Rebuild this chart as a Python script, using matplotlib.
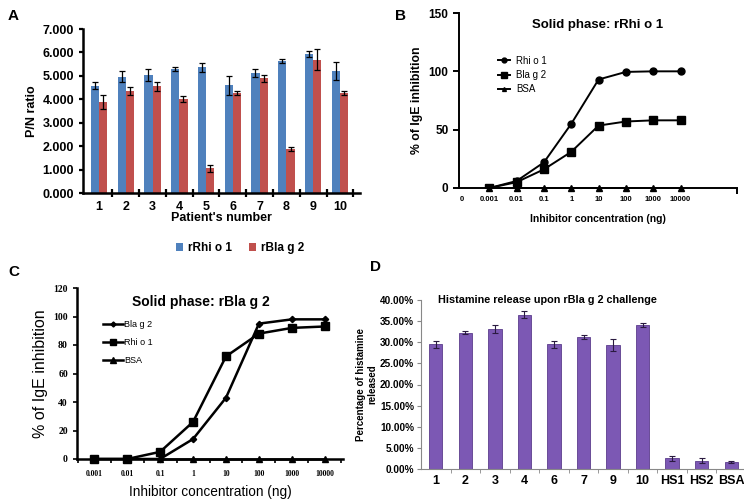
"""Four-panel figure: P/N ratios, two inhibition curves and histamine release."""

import matplotlib.pyplot as plt
import numpy as np
from matplotlib.ticker import FixedLocator, FuncFormatter

# Panel A: P/N ratio per patient
patients = ["1", "2", "3", "4", "5", "6", "7", "8", "9", "10"]
rhi_pn = [4.58, 4.97, 5.03, 5.29, 5.36, 4.60, 5.11, 5.65, 5.94, 5.20]
rhi_pn_err = [0.15, 0.25, 0.25, 0.07, 0.18, 0.40, 0.18, 0.08, 0.13, 0.38]
bla_pn = [3.88, 4.35, 4.55, 4.02, 1.05, 4.27, 4.90, 1.88, 5.68, 4.27]
bla_pn_err = [0.30, 0.18, 0.18, 0.12, 0.15, 0.07, 0.15, 0.10, 0.45, 0.08]

# Panel B: solid phase rRhi o 1
conc_b = [0.001, 0.01, 0.1, 1, 10, 100, 1000, 10000]
b_rhi = [0, 6, 22, 55, 93, 99.5, 100, 100]
b_bla = [0, 5, 16, 31, 53.5, 57, 58, 58]
b_bsa = [0, 0, 0, 0, 0, 0, 0, 0]
b_tick_values = [0, 0.001, 0.01, 0.1, 1, 10, 100, 1000, 10000]
b_tick_labels = ["0", "0.001", "0.01", "0.1", "1", "10", "100", "1000", "10000"]

# Panel C: solid phase rBla g 2
conc_c = [0.001, 0.01, 0.1, 1, 10, 100, 1000, 10000]
c_bla = [0, 0, 0, 14, 43, 95, 98, 98]
c_rhi = [0, 0, 5, 26, 72, 88, 92, 93]
c_bsa = [None, None, 0, 0, 0, 0, 0, 0]
c_tick_labels = ["0.001", "0.01", "0.1", "1", "10", "100", "1000", "10000"]

# Panel D: histamine release
d_groups = ["1", "2", "3", "4", "6", "7", "9", "10", "HS1", "HS2", "BSA"]
d_release = [29.5, 32.3, 33.2, 36.5, 29.5, 31.2, 29.3, 34.0, 2.5, 2.0, 1.7]
d_err = [0.9, 0.3, 0.9, 0.8, 0.9, 0.4, 1.4, 0.5, 0.5, 0.6, 0.3]

W, H = 744, 500
fig = plt.figure(figsize=(W / 100, H / 100), dpi=100)
plt.rcParams["font.family"] = ["Liberation Sans", "DejaVu Sans"]


def px_axes(left, top, right, bottom):
    return fig.add_axes([left / W, 1 - bottom / H, (right - left) / W, (bottom - top) / H])


# ---------- A ----------
ax_a = px_axes(83, 29, 360, 193)
x = np.arange(len(patients))
bw = 0.31
ax_a.bar(x - bw / 2, rhi_pn, bw, color="#4f81bd", label="rRhi o 1",
         yerr=rhi_pn_err, error_kw=dict(ecolor="black", elinewidth=0.9, capsize=2.5, capthick=0.9))
ax_a.bar(x + bw / 2, bla_pn, bw, color="#c0504d", label="rBla g 2",
         yerr=bla_pn_err, error_kw=dict(ecolor="black", elinewidth=0.9, capsize=2.5, capthick=0.9))
ax_a.set_xlim(-0.6, 9.75)
ax_a.set_ylim(0, 7)
ax_a.set_yticks(np.arange(0, 8, 1))
ax_a.yaxis.set_major_formatter(FuncFormatter(lambda v, p: f"{v:.3f}"))
ax_a.set_xticks(x)
ax_a.set_xticklabels(patients)
ax_a.xaxis.set_minor_locator(FixedLocator(np.arange(0.5, 10, 1)))
ax_a.tick_params(axis="x", which="major", length=0, labelsize=9, pad=6)
ax_a.tick_params(axis="x", which="minor", direction="inout", length=6, width=1.6)
ax_a.tick_params(axis="y", direction="out", length=3, width=1.6, labelsize=9)
for lab in ax_a.get_xticklabels() + ax_a.get_yticklabels():
    lab.set_fontweight("bold")
for s in ("top", "right"):
    ax_a.spines[s].set_visible(False)
for s in ("left", "bottom"):
    ax_a.spines[s].set_linewidth(1.8)
ax_a.set_xlabel("Patient's number", fontsize=9, fontweight="bold", labelpad=-1)
ax_a.set_ylabel("P/N ratio", fontsize=9, fontweight="bold", labelpad=3)
ax_a.legend(loc="center", bbox_to_anchor=(240 / W, 1 - 248 / H), bbox_transform=fig.transFigure,
            ncol=2, frameon=False, handlelength=0.6, handleheight=0.6, handletextpad=0.4,
            columnspacing=1.5, prop=dict(size=8.5, weight="bold"))
fig.text(8 / W, 1 - 16 / H, "A", fontsize=11, fontweight="bold", va="center")

# ---------- B ----------
ax_b = px_axes(459, 13, 737, 188)
ax_b.set_xscale("symlog", linthresh=1e-3, linscale=0.9)
ax_b.plot(conc_b, b_rhi, "-o", color="black", lw=1.4, ms=5, label="Rhi o 1")
ax_b.plot(conc_b, b_bla, "-s", color="black", lw=1.4, ms=5.5, label="Bla g 2")
ax_b.plot(conc_b, b_bsa, "-^", color="black", lw=1.4, ms=4, label="BSA", clip_on=False)
ax_b.set_xlim(-1.1e-4, 1.17e6)
ax_b.set_ylim(0, 150)
ax_b.set_yticks([0, 50, 100, 150])
ax_b.xaxis.set_major_locator(FixedLocator(b_tick_values))
ax_b.set_xticklabels(b_tick_labels)
ax_b.xaxis.set_minor_locator(FixedLocator([1.17e6]))
ax_b.tick_params(axis="x", which="major", length=0, labelsize=5.5, pad=6)
ax_b.tick_params(axis="x", which="minor", length=4, width=1.4)
ax_b.tick_params(axis="y", length=4, width=1.4, labelsize=8.5)
for lab in ax_b.get_xticklabels() + ax_b.get_yticklabels():
    lab.set_fontweight("bold")
for s in ("top", "right"):
    ax_b.spines[s].set_visible(False)
for s in ("left", "bottom"):
    ax_b.spines[s].set_linewidth(1.4)
ax_b.set_xlabel("Inhibitor concentration (ng)", fontsize=7.5, fontweight="bold", labelpad=8)
ax_b.set_ylabel("% of IgE inhibition", fontsize=8.8, fontweight="bold", labelpad=4)
ax_b.text(0.5, 0.93, "Solid phase: rRhi o 1", transform=ax_b.transAxes, ha="center",
          va="center", fontsize=9.5, fontweight="bold")
ax_b.legend(loc="upper left", bbox_to_anchor=(489 / W, 1 - 47 / H), bbox_transform=fig.transFigure,
            frameon=False, fontsize=7, handlelength=1.3, handletextpad=0.6, labelspacing=0.45,
            markerscale=0.7)
fig.text(395 / W, 1 - 16 / H, "B", fontsize=11, fontweight="bold", va="center")

# ---------- C ----------
ax_c = px_axes(77, 288, 343, 459)
ax_c.set_xscale("log")
ax_c.plot(conc_c, c_bla, "-D", color="black", lw=1.8, ms=3.2, label="Bla g 2", clip_on=False)
ax_c.plot(conc_c, c_rhi, "-s", color="black", lw=1.8, ms=6, label="Rhi o 1", clip_on=False)
bsa_x = [c for c, v in zip(conc_c, c_bsa) if v is not None]
bsa_y = [v for v in c_bsa if v is not None]
ax_c.plot(bsa_x, bsa_y, "-^", color="black", lw=1.8, ms=5, label="BSA", clip_on=False)
ax_c.set_xlim(10 ** -3.52, 10 ** 4.55)
ax_c.set_ylim(0, 120)
ax_c.set_yticks(np.arange(0, 121, 20))
ax_c.xaxis.set_major_locator(FixedLocator(conc_c))
ax_c.set_xticklabels(c_tick_labels)
ax_c.xaxis.set_minor_locator(FixedLocator(10 ** np.arange(-3.5, 4.6, 1.0)))
ax_c.tick_params(axis="x", which="major", length=0, labelsize=5.5, pad=8)
ax_c.tick_params(axis="x", which="minor", length=3, width=1.2, direction="out")
ax_c.tick_params(axis="y", length=3, width=1.2, labelsize=7)
for lab in ax_c.get_xticklabels() + ax_c.get_yticklabels():
    lab.set_fontfamily("Liberation Serif")
    lab.set_fontweight("bold")
for s in ("top", "right"):
    ax_c.spines[s].set_visible(False)
for s in ("left", "bottom"):
    ax_c.spines[s].set_linewidth(1.8)
ax_c.set_xlabel("Inhibitor concentration (ng)", fontsize=9.8, labelpad=5)
ax_c.set_ylabel("% of IgE inhibition", fontsize=11.5, labelpad=4)
ax_c.text(0.466, 0.92, "Solid phase: rBla g 2", transform=ax_c.transAxes, ha="center",
          va="center", fontsize=10, fontweight="bold")
ax_c.legend(loc="upper left", bbox_to_anchor=(95 / W, 1 - 312 / H), bbox_transform=fig.transFigure,
            frameon=False, fontsize=6.5, handlelength=2.2, handletextpad=0.1, labelspacing=1.0,
            markerscale=0.8)
fig.text(8 / W, 1 - 272 / H, "C", fontsize=11, fontweight="bold", va="center")

# ---------- D ----------
ax_d = px_axes(421, 300, 746, 469)
xd = np.arange(len(d_groups))
ax_d.bar(xd, d_release, 0.45, color="#7c58b4", edgecolor="#5b3d8c", linewidth=0.6,
         yerr=d_err, error_kw=dict(ecolor="#2a1a40", elinewidth=0.8, capsize=2, capthick=0.8))
ax_d.set_xlim(-0.5, 10.5)
ax_d.set_ylim(0, 40)
ax_d.set_yticks(np.arange(0, 41, 5))
ax_d.yaxis.set_major_formatter(FuncFormatter(lambda v, p: f"{v:.2f}%"))
ax_d.set_xticks(xd)
ax_d.set_xticklabels(d_groups)
ax_d.xaxis.set_minor_locator(FixedLocator(np.arange(0.5, 10.5, 1)))
ax_d.tick_params(axis="x", which="major", length=0, labelsize=9, pad=4)
ax_d.tick_params(axis="x", which="minor", length=3, color="#888888")
ax_d.tick_params(axis="y", length=3, color="#888888", labelsize=7.2, pad=2)
for lab in ax_d.get_xticklabels() + ax_d.get_yticklabels():
    lab.set_fontweight("bold")
for s in ("top", "right"):
    ax_d.spines[s].set_visible(False)
for s in ("left", "bottom"):
    ax_d.spines[s].set_color("#888888")
    ax_d.spines[s].set_linewidth(0.8)
ax_d.set_ylabel("Percentage of histamine\nreleased", fontsize=7, fontweight="bold", labelpad=2)
ax_d.text(0.388, 1.0, "Histamine release upon rBla g 2 challenge", transform=ax_d.transAxes,
          ha="center", va="center", fontsize=7.8, fontweight="bold")
fig.text(370 / W, 1 - 267 / H, "D", fontsize=11, fontweight="bold", va="center")

fig.savefig("out.png", dpi=100)
